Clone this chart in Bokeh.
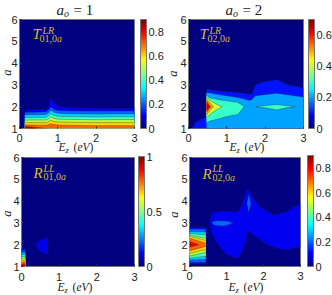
import math
from bokeh.plotting import figure
from bokeh.layouts import column, row
from bokeh.models import Range1d, ColorBar, LinearColorMapper, FixedTicker, Label
from bokeh.embed import file_html
from bokeh.resources import INLINE

# ---------- panel 1: T01,0a  (contour heights a(E) per level)
p1_vmax = 0.9
p1_E = [.14, .3, .5, .7, .76, .82, .9, 1.0, 1.2, 1.6, 2.0, 2.5, 3.0]
p1_levels = {
    .1: [1.86, 1.87, 1.88, 1.9, 2.05, 2.44, 2.2, 2.04, 1.97, 1.95, 1.94, 1.93, 1.93],
    .2: [1.74, 1.75, 1.76, 1.77, 1.85, 2.0, 1.88, 1.83, 1.81, 1.8, 1.8, 1.8, 1.8],
    .3: [1.62, 1.63, 1.63, 1.64, 1.72, 1.84, 1.74, 1.7, 1.68, 1.67, 1.66, 1.67, 1.67],
    .4: [1.5, 1.51, 1.51, 1.51, 1.58, 1.68, 1.6, 1.56, 1.55, 1.54, 1.53, 1.54, 1.54],
    .5: [1.38, 1.39, 1.39, 1.39, 1.44, 1.53, 1.46, 1.43, 1.42, 1.41, 1.4, 1.41, 1.41],
    .6: [1.27, 1.27, 1.27, 1.27, 1.31, 1.38, 1.32, 1.3, 1.29, 1.28, 1.27, 1.27, 1.27],
    .7: [1.16, 1.16, 1.15, 1.15, 1.18, 1.22, 1.18, 1.16, 1.15, 1.14, 1.13, 1.13, 1.13],
}
p1_top_E = [.14, .3, .5, .72]
p1_top_a = [1.09, 1.07, 1.04, 1.0]
p1_peak_E = [.16, .3, .45]
p1_peak_a = [1.03, 1.03, 1.0]

# ---------- panel 2: T02,0a
p2_vmax = 0.7
p2_E10 = [.08, .2, .3, .44, .47, .7, 1.0, 1.3, 1.6, 1.66, 1.75, 1.9, 2.3, 2.6, 3.0]
p2_a10 = [1.0, 1.3, 1.4, 1.5, 2.82, 2.75, 2.7, 2.65, 2.58, 2.6, 3.0, 3.12, 3.25, 3.0, 2.88]
p2_E20 = [.47, .7, 1.0, 1.3, 1.6, 1.66, 1.75, 2.3, 3.0]
p2_a20 = [2.66, 2.58, 2.5, 2.42, 2.28, 2.34, 2.5, 2.62, 2.44]
p2_E30 = [.47, .54, .8, 1.0, 1.29, 1.45]
p2_lo30 = [1.25, 1.33, 1.45, 1.55, 1.64, 2.0]
p2_hi30 = [2.55, 2.42, 2.32, 2.27, 2.2, 2.0]
p2_E40 = [.47, .6, .75, .88]
p2_lo40 = [1.5, 1.7, 1.87, 2.0]
p2_hi40 = [2.45, 2.25, 2.1, 2.0]
p2_E50 = [.47, .55, .65]
p2_lo50 = [1.62, 1.82, 2.0]
p2_hi50 = [2.38, 2.2, 2.0]
p2_E60 = [.47, .53, .58]
p2_lo60 = [1.75, 1.9, 2.0]
p2_hi60 = [2.28, 2.1, 2.0]
p2_E66 = [.47, .53]
p2_lo66 = [1.85, 2.0]
p2_hi66 = [2.15, 2.0]
p2_lens_E = [1.75, 2.0, 2.3, 2.55, 2.78]
p2_lens_lo = [2.0, 1.95, 1.85, 1.95, 2.0]
p2_lens_hi = [2.0, 2.05, 2.1, 2.05, 2.0]

# ---------- panel 3: R01,0a
p3_vmax = 1.0
p3_E = [0, .1]
p3_levels = {.1: 1.85, .2: 1.75, .3: 1.65, .4: 1.55, .5: 1.45, .6: 1.35, .7: 1.27, .8: 1.18, .9: 1.1}
p3_blob_E = [.38, .42, .5, .6, .71, .72]
p3_blob_lo = [1.97, 1.8, 1.68, 1.6, 1.55, 1.97]
p3_blob_hi = [1.97, 2.15, 2.24, 2.29, 2.33, 1.97]

# ---------- panel 4: R02,0a
p4_vmax = 0.9
p4_block_E = [0, .44]
p4_block = {
    .1: ([1.09, 1.09], [2.82, 2.82]),
    .2: ([1.18, 1.18], [2.72, 2.72]),
    .3: ([1.3, 1.34], [2.6, 2.58]),
    .4: ([1.38, 1.47], [2.52, 2.45]),
    .5: ([1.48, 1.65], [2.43, 2.3]),
    .6: ([1.6, 1.78], [2.38, 2.2]),
    .7: ([1.72, 1.92], [2.3, 2.07]),
}
p4_peak_E = [0, .25]
p4_peak_lo = [1.88, 2.0]
p4_peak_hi = [2.15, 2.0]
p4_E10 = [.55, .6, .7, .85, 1.0, 1.15, 1.3, 1.4, 1.5, 1.57, 1.62, 1.7, 1.85, 2.0, 2.3, 2.6, 3.0]
p4_hi10 = [3.1, 3.45, 3.52, 3.55, 3.55, 3.52, 3.5, 3.75, 4.3, 4.55, 4.5, 4.2, 3.85, 3.65, 3.35, 3.5, 3.9]
p4_lo10 = [2.9, 2.5, 2.2, 1.85, 1.55, 1.45, 1.35, 1.6, 2.0, 2.55, 2.65, 2.45, 2.3, 2.1, 1.85, 1.75, 1.9]
p4_lens_E = [.62, .7, .9, 1.05, 1.17]
p4_lens_lo = [2.95, 2.88, 2.85, 2.9, 3.0]
p4_lens_hi = [3.05, 3.1, 3.1, 3.08, 3.0]
p4_spike_E = [1.55, 1.6, 1.66]
p4_spike_lo = [3.9, 3.45, 3.9]
p4_spike_hi = [3.9, 4.35, 3.9]

x_ticks = [0, 1, 2, 3]
y_ticks = [1, 2, 3, 4, 5, 6]
GOLD = "#d8bd2a"
SERIF = "Liberation Serif"
SANS = "Liberation Sans"
TXT = "#222222"


def jet(t):
    c = lambda v: max(0.0, min(1.0, v))
    r = c(1.5 - abs(4 * t - 3))
    g = c(1.5 - abs(4 * t - 2))
    b = c(1.5 - abs(4 * t - 1))
    return "#%02x%02x%02x" % (round(r * 255), round(g * 255), round(b * 255))


JET64 = [jet((i + .5) / 64) for i in range(64)]
BG = jet(0.0)


def panel(w, h, left, top, right, bottom, vmax, ticks, bar_gap, std):
    fw, fh = w - left - right, h - top - bottom
    p = figure(width=w, height=h, min_border_left=left, min_border_top=top,
               min_border_right=right, min_border_bottom=bottom,
               x_range=Range1d(0, 3), y_range=Range1d(1, 6), output_backend="svg",
               toolbar_location=None, background_fill_color=BG,
               border_fill_color=None)
    p.grid.visible = False
    p.outline_line_color = "#777777"
    p.outline_line_width = 1
    p.xaxis.ticker = FixedTicker(ticks=x_ticks)
    p.yaxis.ticker = FixedTicker(ticks=y_ticks)
    for ax in (p.xaxis[0], p.yaxis[0]):
        ax.axis_line_color = None
        ax.major_tick_in = 2
        ax.major_tick_out = 0
        ax.minor_tick_line_color = None
        ax.major_tick_line_color = "#333333"
        ax.major_label_text_font = SANS
        ax.major_label_text_font_size = "11px"
        ax.major_label_text_color = TXT
    p.xaxis[0].major_label_standoff = std
    p.yaxis[0].major_label_standoff = 2
    mapper = LinearColorMapper(palette=JET64, low=0, high=vmax)
    cb = ColorBar(color_mapper=mapper, ticker=FixedTicker(ticks=ticks), width=6, height=fh,
                  location=(fw + bar_gap, 0), padding=0, margin=0,
                  major_tick_line_color=None, minor_tick_line_color=None,
                  bar_line_color="#777777", border_line_color=None,
                  background_fill_color=None, label_standoff=2,
                  major_label_text_font=SANS, major_label_text_font_size="11px",
                  major_label_text_color=TXT)
    p.add_layout(cb)
    return p


def band(p, E, lo, hi, level, vmax):
    lo_a = [lo] * len(E) if not isinstance(lo, (list, tuple)) else lo
    p.varea(x=E, y1=lo_a, y2=hi, fill_color=jet(level / vmax))
    p.line(E, hi, line_color="#1a1a1a", line_alpha=.55, line_width=.6)
    if isinstance(lo, (list, tuple)):
        p.line(E, lo_a, line_color="#1a1a1a", line_alpha=.55, line_width=.6)


# transparent full-page layer in page pixels for the texts around the plots
ov = figure(width=332, height=295, min_border=0, title=None, x_axis_location=None, y_axis_location=None,
            x_range=Range1d(0, 332), y_range=Range1d(295, 0),
            output_backend="svg", toolbar_location=None, background_fill_color=None,
            border_fill_color=None, outline_line_color=None,
            styles={"position": "absolute", "top": "0px", "left": "0px"})
ov.grid.visible = False


def lab(x, y, text, size, style="normal", color=TXT, angle=0, align="left"):
    # baseline anchoring of a Label sits about a third of an em above the given point
    if angle:
        x -= .33 * size
    else:
        y -= .33 * size
    ov.add_layout(Label(x=x, y=y, text=text, text_font=SERIF, text_font_size=f"{size}px",
                        text_font_style=style, text_color=color, angle=angle,
                        text_align=align, text_baseline="alphabetic", padding=0))


def title(x, y, n):
    lab(x, y, "a", 15, "italic")
    lab(x + 7.5, y + 2.5, "o", 10, "italic")
    lab(x + 17, y, f"= {n}", 15)


def xlabel(x, y):
    lab(x, y, "E", 11.5, "italic")
    lab(x + 7, y + 2, "z", 8.5, "italic")
    lab(x + 15, y, "(", 11.5)
    lab(x + 19, y, "eV", 11.5, "italic")
    lab(x + 31, y, ")", 11.5)


def tag(x, y, big, sup, sub, sx, sub_x, sup_y, sub_y):
    lab(x, y, big, 15, "italic", GOLD)
    lab(sx, sup_y, sup, 10, "italic", GOLD)
    lab(sub_x, sub_y, sub, 10, "normal", GOLD)
    lab(sub_x + 17.5, sub_y, "a", 10, "italic", GOLD)


# panel 1
p1 = panel(166, 148, 19, 19, 32, 20, p1_vmax, [0, .2, .4, .6, .8], 6, 5)
for lv, hi in p1_levels.items():
    band(p1, p1_E, 1, hi, lv, p1_vmax)
band(p1, p1_top_E, 1, p1_top_a, .8, p1_vmax)
band(p1, p1_peak_E, 1, p1_peak_a, .88, p1_vmax)

# panel 2
p2 = panel(166, 148, 22, 19, 29, 20, p2_vmax, [0, .2, .4, .6], 5, 5)
band(p2, p2_E10 + [3.0], 1, p2_a10 + [p2_a10[-1]], .1, p2_vmax)
band(p2, p2_E20, 1, p2_a20, .2, p2_vmax)
band(p2, p2_E30, p2_lo30, p2_hi30, .3, p2_vmax)
band(p2, p2_E40, p2_lo40, p2_hi40, .4, p2_vmax)
band(p2, p2_E50, p2_lo50, p2_hi50, .5, p2_vmax)
band(p2, p2_E60, p2_lo60, p2_hi60, .6, p2_vmax)
band(p2, p2_E66, p2_lo66, p2_hi66, .66, p2_vmax)
band(p2, p2_lens_E, p2_lens_lo, p2_lens_hi, .3, p2_vmax)

# panel 3
p3 = panel(166, 147, 21, 8, 32, 29, p3_vmax, [0, .5, 1], 4, 6)
for lv, hi in p3_levels.items():
    band(p3, p3_E, 1, [hi, hi], lv, p3_vmax)
band(p3, p3_blob_E, p3_blob_lo, p3_blob_hi, .1, p3_vmax)

# panel 4
p4 = panel(166, 147, 23, 9, 32, 27, p4_vmax, [0, .2, .4, .6, .8], 7, 5)
for lv, (lo, hi) in p4_block.items():
    band(p4, p4_block_E, lo, hi, lv, p4_vmax)
band(p4, p4_peak_E, p4_peak_lo, p4_peak_hi, .8, p4_vmax)
band(p4, p4_E10, p4_lo10, p4_hi10, .1, p4_vmax)
band(p4, p4_lens_E, p4_lens_lo, p4_lens_hi, .2, p4_vmax)
band(p4, p4_spike_E, p4_spike_lo, p4_spike_hi, .2, p4_vmax)

# texts around and on the panels
title(56, 14, 1)
title(225, 14, 2)
xlabel(58, 150)
xlabel(229, 150)
xlabel(57, 290)
xlabel(228, 290)
for yx, yy in [(11, 72), (177, 73), (11, 213), (178, 214)]:
    lab(yx, yy, "a", 12.5, "italic", angle=math.pi / 2, align="center")
tag(32, 38, "T", "LR", "01,0", 42, 39, 33, 41)
tag(199, 38, "T", "LR", "02,0", 209, 207, 33, 41)
tag(33, 177, "R", "LL", "01,0", 43, 43, 171, 179)
tag(202, 178, "R", "LL", "02,0", 212, 212, 171, 180)

layout = column(row(p1, p2), row(p3, p4), ov)
open("out.html", "w").write(file_html(layout, INLINE))
